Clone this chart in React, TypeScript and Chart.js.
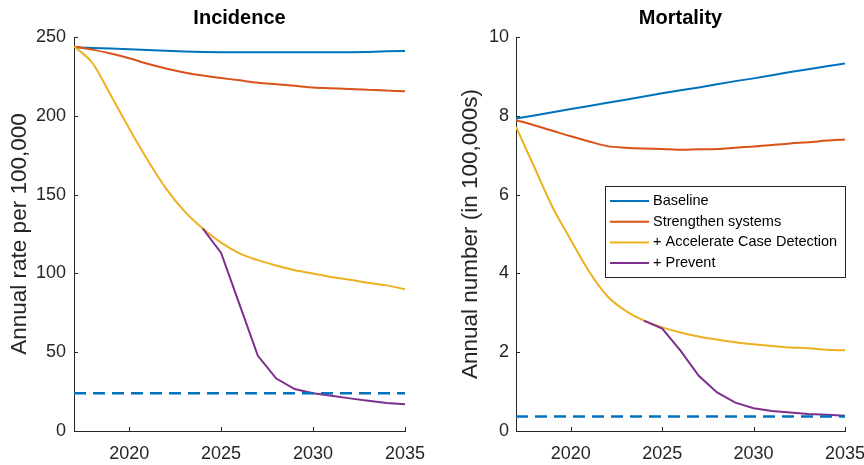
import React, { useEffect, useRef } from "react";
import { Chart, registerables } from "chart.js";

Chart.register(...registerables);

// ---------- data ----------
const YEARS = [2017, 2018, 2019, 2020, 2021, 2022, 2023, 2024, 2025, 2026, 2027, 2028, 2029, 2030, 2031, 2032, 2033, 2034, 2035];

const SERIES_LABELS = ["Baseline", "Strengthen systems", "+ Accelerate Case Detection", "+ Prevent"];
const SERIES_COLORS = ["#0072BD", "#D95319", "#EDB120", "#7E2F8E"];
const SERIES_SMOOTH = [false, true, true, false];

const INC_BASELINE = [243.5, 243, 242.7, 242.2, 241.7, 241.2, 240.8, 240.5, 240.3, 240.3, 240.3, 240.3, 240.3, 240.3, 240.3, 240.3, 240.5, 240.9, 241.1];
const INC_STRENGTHEN = [244, 242, 239.5, 236.5, 233, 230, 227.5, 225.5, 224, 222.5, 221, 220, 219, 218, 217.5, 217, 216.5, 216, 215.5];
const INC_ACCELERATE = [244, 233.5, 213, 192, 172, 154, 139.5, 128.5, 119.5, 112.7, 108.4, 105, 102, 100, 97.7, 96, 94, 92.4, 90];
const INC_PREVENT = [null, null, null, null, null, null, null, 128.5, 113, 80.4, 47.7, 33.3, 26.6, 24, 22.3, 20.7, 19.2, 17.7, 16.9];
const INC_TARGET = 24;

const MORT_BASELINE = [7.93, 8.01, 8.09, 8.17, 8.25, 8.33, 8.41, 8.49, 8.57, 8.65, 8.72, 8.8, 8.88, 8.95, 9.03, 9.11, 9.18, 9.26, 9.33];
const MORT_STRENGTHEN = [7.89, 7.76, 7.62, 7.48, 7.35, 7.23, 7.19, 7.17, 7.16, 7.14, 7.15, 7.16, 7.19, 7.22, 7.26, 7.3, 7.33, 7.37, 7.4];
const MORT_ACCELERATE = [7.72, 6.7, 5.68, 4.85, 4.05, 3.42, 3.05, 2.8, 2.63, 2.5, 2.4, 2.32, 2.25, 2.2, 2.16, 2.12, 2.1, 2.06, 2.05];
const MORT_PREVENT = [null, null, null, null, null, null, null, 2.8, 2.6, 2.04, 1.4, 0.98, 0.72, 0.58, 0.51, 0.47, 0.43, 0.41, 0.39];
const MORT_TARGET = 0.37;

const X_MIN = 2017;
const X_MAX = 2035;
const X_TICKS = [2020, 2025, 2030, 2035];

const INC_Y_MAX = 250;
const INC_Y_STEP = 50;
const MORT_Y_MAX = 10;
const MORT_Y_STEP = 2;

// ---------- styles ----------
const FONT = "'Liberation Sans', Arial, sans-serif";
const AXIS_COLOR = "#262626";

type PanelCfg = {
  title: string;
  yTitle: string;
  series: (number | null)[][];
  target: number;
  yMax: number;
  yStep: number;
  yAxisWidth: number;
  yTitlePad: number;
  yTickPad: number;
  padRight: number;
  legend: boolean;
};

const toPoints = (vals: (number | null)[]) => YEARS.map((x, i) => ({ x, y: vals[i] }));

function makeChart(canvas: HTMLCanvasElement, cfg: PanelCfg) {
  const datasets: any[] = cfg.series.map((vals, i) => ({
    label: SERIES_LABELS[i],
    data: toPoints(vals),
    borderColor: SERIES_COLORS[i],
    backgroundColor: SERIES_COLORS[i],
    borderWidth: 2,
    pointRadius: 0,
    tension: 0,
    cubicInterpolationMode: SERIES_SMOOTH[i] ? "monotone" : "default",
    spanGaps: false,
    order: 10 - i,
  }));
  datasets.push({
    label: "Target",
    data: [
      { x: X_MIN, y: cfg.target },
      { x: X_MAX, y: cfg.target },
    ],
    borderColor: SERIES_COLORS[0],
    borderWidth: 2.5,
    borderDash: [12, 7],
    pointRadius: 0,
    order: 0,
  });

  const decor = {
    id: "decor",
    afterDraw(chart: any) {
      const ctx = chart.ctx;
      const area = chart.chartArea;
      const xs = chart.scales.x;
      const ys = chart.scales.y;
      ctx.save();
      // inward tick marks
      ctx.strokeStyle = AXIS_COLOR;
      ctx.lineWidth = 1;
      ctx.beginPath();
      xs.ticks.forEach((t: any) => {
        const px = Math.round(xs.getPixelForValue(t.value)) + 0.5;
        ctx.moveTo(px, area.bottom);
        ctx.lineTo(px, area.bottom - 4);
      });
      ys.ticks.forEach((t: any) => {
        const py = Math.round(ys.getPixelForValue(t.value)) + 0.5;
        ctx.moveTo(area.left, py);
        ctx.lineTo(area.left + 4, py);
      });
      ctx.stroke();
      // title
      ctx.fillStyle = "#000";
      ctx.font = `bold 20px ${FONT}`;
      ctx.textAlign = "center";
      ctx.textBaseline = "middle";
      ctx.fillText(cfg.title, (area.left + area.right) / 2, 18);
      // legend
      if (cfg.legend) {
        const bx = 173.5;
        const by = 186.5;
        const bw = 240;
        const bh = 91;
        ctx.fillStyle = "#fff";
        ctx.fillRect(bx, by, bw, bh);
        ctx.strokeStyle = AXIS_COLOR;
        ctx.lineWidth = 1;
        ctx.strokeRect(bx, by, bw, bh);
        ctx.font = `14.5px ${FONT}`;
        ctx.textAlign = "left";
        ctx.textBaseline = "middle";
        SERIES_LABELS.forEach((lab, i) => {
          const cy = 201 + i * 20.7;
          ctx.strokeStyle = SERIES_COLORS[i];
          ctx.lineWidth = 2;
          ctx.beginPath();
          ctx.moveTo(178, cy);
          ctx.lineTo(217, cy);
          ctx.stroke();
          ctx.fillStyle = "#000";
          ctx.fillText(lab, 221, cy);
        });
      }
      ctx.restore();
    },
  };

  return new Chart(canvas, {
    type: "line",
    data: { datasets },
    plugins: [decor],
    options: {
      animation: false,
      responsive: false,
      devicePixelRatio: 1,
      layout: { padding: { top: 37, right: cfg.padRight, bottom: 0, left: 0 } },
      plugins: {
        legend: { display: false },
        title: { display: false },
        tooltip: { enabled: false },
      },
      scales: {
        x: {
          type: "linear",
          min: X_MIN,
          max: X_MAX,
          afterBuildTicks: (scale: any) => {
            scale.ticks = X_TICKS.map((v) => ({ value: v }));
          },
          afterFit: (scale: any) => {
            scale.height = 34;
            scale.paddingLeft = 0;
            scale.paddingRight = 0;
          },
          grid: { display: false, drawTicks: false },
          border: { display: true, color: AXIS_COLOR, width: 1 },
          ticks: {
            autoSkip: false,
            maxRotation: 0,
            padding: 12,
            color: AXIS_COLOR,
            font: { family: FONT, size: 18 },
            callback: (v: any) => String(v),
          },
        },
        y: {
          type: "linear",
          min: 0,
          max: cfg.yMax,
          afterFit: (scale: any) => {
            scale.width = cfg.yAxisWidth;
            scale.paddingTop = 0;
            scale.paddingBottom = 0;
          },
          grid: { display: false, drawTicks: false },
          border: { display: true, color: AXIS_COLOR, width: 1 },
          ticks: {
            stepSize: cfg.yStep,
            padding: cfg.yTickPad,
            color: AXIS_COLOR,
            font: { family: FONT, size: 18 },
          },
          title: {
            display: true,
            text: cfg.yTitle,
            color: AXIS_COLOR,
            font: { family: FONT, size: 22.5 },
            padding: { top: cfg.yTitlePad, bottom: 0 },
          },
        },
      },
    } as any,
  });
}

function Panel({ cfg, left }: { cfg: PanelCfg; left: number }) {
  const ref = useRef<HTMLCanvasElement | null>(null);
  useEffect(() => {
    if (!ref.current) return;
    const chart = makeChart(ref.current, cfg);
    return () => chart.destroy();
  }, []);
  return (
    <div style={{ position: "absolute", left, top: 0, width: 432, height: 465 }}>
      <canvas ref={ref} width={432} height={465} style={{ display: "block", width: 432, height: 465 }} />
    </div>
  );
}

const INCIDENCE: PanelCfg = {
  title: "Incidence",
  yTitle: "Annual rate per 100,000",
  series: [INC_BASELINE, INC_STRENGTHEN, INC_ACCELERATE, INC_PREVENT],
  target: INC_TARGET,
  yMax: INC_Y_MAX,
  yStep: INC_Y_STEP,
  yAxisWidth: 74,
  yTitlePad: 6,
  yTickPad: 8,
  padRight: 27,
  legend: false,
};

const MORTALITY: PanelCfg = {
  title: "Mortality",
  yTitle: "Annual number (in 100,000s)",
  series: [MORT_BASELINE, MORT_STRENGTHEN, MORT_ACCELERATE, MORT_PREVENT],
  target: MORT_TARGET,
  yMax: MORT_Y_MAX,
  yStep: MORT_Y_STEP,
  yAxisWidth: 84,
  yTitlePad: 25,
  yTickPad: 7,
  padRight: 19,
  legend: true,
};

export default function App() {
  return (
    <div style={{ position: "fixed", left: 0, top: 0, width: 864, height: 465, background: "#fff" }}>
      <Panel cfg={INCIDENCE} left={0} />
      <Panel cfg={MORTALITY} left={432} />
    </div>
  );
}
